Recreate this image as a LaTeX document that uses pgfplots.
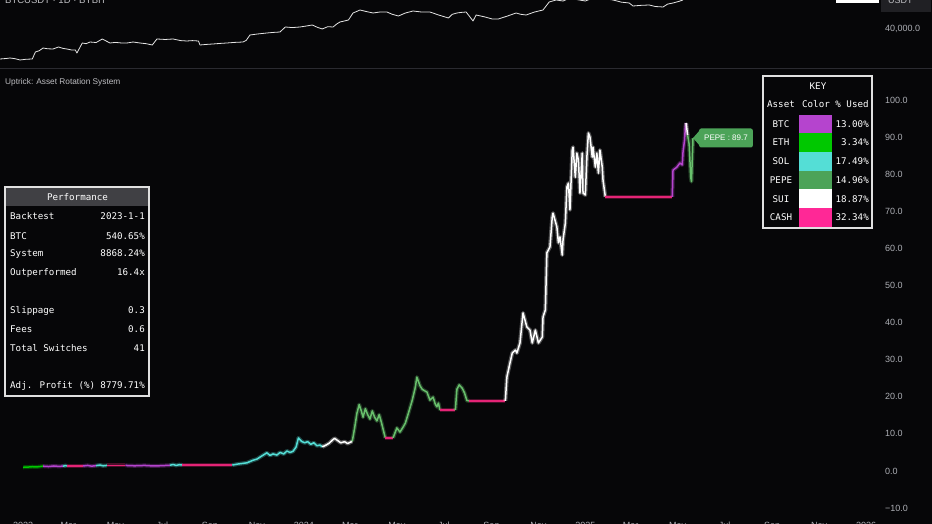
\documentclass[border=0pt]{standalone}
\usepackage{pgfplots}
\pgfplotsset{compat=1.18}
\usepackage{fontspec}
\setmainfont{Liberation Sans}
\newfontfamily\mono{DejaVu Sans Mono}
\definecolor{bg}{RGB}{6,6,8}
\definecolor{tick}{RGB}{172,174,180}
\definecolor{lblgrey}{RGB}{190,190,194}
\definecolor{sepc}{RGB}{42,42,48}
\definecolor{hdr}{RGB}{64,64,68}
\definecolor{usdtbg}{RGB}{32,32,36}
\definecolor{btc}{RGB}{181,68,206}
\definecolor{eth}{RGB}{0,200,0}
\definecolor{sol}{RGB}{84,222,214}
\definecolor{pepe}{RGB}{76,163,88}
\definecolor{sui}{RGB}{255,255,255}
\definecolor{cash}{RGB}{255,40,150}
\definecolor{cashline}{RGB}{228,36,118}
\definecolor{pepeline}{RGB}{104,192,108}
\definecolor{btcline}{RGB}{228,228,228}
\pgfplotsset{seg/.style={draw=#1, line width=1.5pt, mark=none, line join=round,
  preaction={draw=#1, line width=4pt, draw opacity=0.3}}}
\begin{document}
\begin{tikzpicture}
\useasboundingbox (0,0) rectangle (932pt,524pt);
\fill[bg] (0,0) rectangle (932pt,524pt);
% ---------- top pane: BTC price ----------
\begin{axis}[at={(0pt,456pt)}, anchor=south west, scale only axis,
  width=878pt, height=68pt, xmin=-30, xmax=1111.5, ymin=9463, ymax=62707,
  axis line style={draw=none}, tick style={draw=none}, major tick length=0,
  xtick=\empty, ytick={40000}, yticklabels={40{,}000.0}, scaled y ticks=false,
  yticklabel pos=right,
  yticklabel style={anchor=west, inner sep=0pt, xshift=7pt, text=tick, font=\fontsize{9}{10}\selectfont},
  clip=true]
\addplot[draw=btcline, line width=0.8pt, mark=none, line join=round] coordinates {
(-30,16510) (-22,16900) (-17,17290) (-10,16700) (-4,15730) (4,16300) (12,16510)
(16,21990) (21,23000) (26,25120) (32,24500) (39,24340) (46,25910) (52,24800)
(57,24340) (63,23560) (68,23560) (70,21210) (77,29040) (82,28500) (87,29820)
(95,29400) (103,32170) (108,30600) (113,29040) (120,29500) (128,29040) (135,29040)
(143,29800) (152,29040) (160,28500) (168,27470) (174,32170) (185,31800) (195,32170)
(205,30900) (213,30600) (220,30900) (228,30600) (230,27470) (240,28000) (247,28260)
(256,28700) (265,29040) (275,29500) (286,29820) (290,31000) (295,35300) (305,36100)
(317,36870) (325,37300) (334,37650) (341,41570) (350,41100) (360,41570) (368,42300)
(376,43130) (383,41200) (389,40000) (396,41800) (403,41570) (408,44000) (412,45480)
(418,46300) (423,47050) (429,52530) (434,53800) (438,54880) (446,53700) (455,52530)
(464,53300) (473,53310) (480,51500) (488,50180) (497,52500) (507,54090) (518,53300)
(529,53310) (540,51000) (553,48610) (558,51500) (564,52530) (570,53000) (576,53310)
(585,46260) (589,50960) (600,49500) (610,47830) (618,47830) (630,50200) (641,52530)
(647,51500) (654,50960) (665,53300) (676,54880) (684,61140) (693,62710) (702,61900)
(711,64270) (720,63000) (731,61920) (740,64000) (750,65060) (758,63500) (767,62710)
(778,61000) (788,60360) (793,58010) (803,58500) (814,58790) (822,57600) (832,57230)
(838,59500) (845,60360) (852,61500) (858,62710)};
\end{axis}
% ---------- bottom pane: system equity ----------
\begin{axis}[at={(0pt,0pt)}, anchor=south west, scale only axis,
  width=878pt, height=456pt, xmin=-30, xmax=1111.5, ymin=-14.286, ymax=108.625,
  axis line style={draw=none}, tick style={draw=none}, major tick length=0,
  ytick={-10,0,10,20,30,40,50,60,70,80,90,100},
  yticklabels={−10.0,0.0,10.0,20.0,30.0,40.0,50.0,60.0,70.0,80.0,90.0,100.0},
  yticklabel pos=right,
  yticklabel style={anchor=west, inner sep=0pt, xshift=7pt, text=tick, font=\fontsize{9}{10}\selectfont},
  xtick={0,59,120,181,243,304,365,425,486,547,609,670,731,790,851,912,974,1035,1096},
  xticklabels={2023,Mar,May,Jul,Sep,Nov,2024,Mar,May,Jul,Sep,Nov,2025,Mar,May,Jul,Sep,Nov,2026},
  xticklabel style={anchor=north, inner sep=0pt, yshift=1.8pt, text=tick, font=\fontsize{9}{10}\selectfont},
  clip=true]
\addplot[seg=eth] coordinates {(0,1.0) (6,1.05) (12,1.15) (18,1.1) (26,1.3)};
\addplot[seg=btc] coordinates {(26,1.3) (33,1.2) (40,1.35) (46,1.25) (52,1.3)};
\addplot[seg=sol] coordinates {(52,1.3) (55,1.45) (57,1.35)};
\addplot[seg=cashline] coordinates {(57,1.35) (78,1.35)};
\addplot[seg=btc] coordinates {(78,1.35) (84,1.5) (89,1.3) (95,1.45)};
\addplot[seg=sol] coordinates {(95,1.45) (100,1.6) (104,1.4) (109,1.5)};
\addplot[seg=cashline] coordinates {(109,1.5) (133,1.5)};
\addplot[seg=btc] coordinates {(133,1.5) (145,1.4) (158,1.5) (170,1.35) (182,1.45) (191,1.55)};
\addplot[seg=sol] coordinates {(191,1.55) (195,1.75) (199,1.5) (203,1.7) (207,1.6)};
\addplot[seg=cashline] coordinates {(207,1.6) (272,1.6)};
\addplot[seg=sol] coordinates {(272,1.6) (280,1.9) (291,2.2) (299,2.9) (304,3.2) (310,4.0)
 (317,4.9) (321,4.2) (325,4.6) (330,4.3) (334,5.0) (339,4.6) (343,5.4) (347,5.0) (351,5.3)
 (355,6.5) (358,8.9) (362,8.0) (366,7.6) (370,7.9) (374,7.2) (378,7.6) (382,6.8) (386,7.0) (389,6.5)};
\addplot[seg=sui] coordinates {(389,6.5) (394,7.0) (398,7.5) (402,8.3) (405,8.8) (409,8.2)
 (413,7.6) (418,7.9) (422,7.4) (426,7.8) (428,8.0)};
\addplot[seg=pepeline] coordinates {(428,8.0) (431,11.5) (434,15.5) (437,17.9) (440,16.0) (442,14.5)
 (445,16.8) (448,15.2) (451,14.0) (454,16.2) (457,14.5) (460,13.5) (463,15.2) (466,13.0) (469,10.5) (471,8.9)};
\addplot[seg=cashline] coordinates {(471,8.9) (481,8.9)};
\addplot[seg=pepeline] coordinates {(481,8.9) (486,11.6) (490,10.5) (494,11.8) (497,12.9) (501,15.6)
 (506,19.1) (510,22.6) (512,25.3) (516,23.0) (519,22.0) (523,21.5) (525,21.3) (529,19.1) (533,19.9)
 (536,18.0) (538,17.3) (540,18.3) (542,16.4)};
\addplot[seg=cashline] coordinates {(542,16.4) (562,16.4)};
\addplot[seg=pepeline] coordinates {(562,16.4) (564,22.0) (567,23.2) (571,22.3) (574,21.0) (577,19.0) (580,18.9)};
\addplot[seg=cashline] coordinates {(580,18.9) (627,18.9)};
\addplot[seg=sui] coordinates {(627,18.9) (629,25.3) (633,29.1) (636,31.8) (640,32.6) (642,31.8)
 (646,34.5) (650,42.6) (655,38.8) (659,38.0) (662,34.5) (666,38.0) (670,34.5) (675,36.1) (676,41.5)
 (679,43.4) (681,58.8) (685,60.4) (688,68.5) (689,69.5) (694,65.8) (696,61.5) (698,63.1) (701,58.2)
 (702,62.3) (705,66.8) (707,76.5) (709,77.6) (711,70.4) (714,86.5) (715,87.3) (718,79.2) (720,85.7)
 (722,83.8) (724,74.9) (727,85.7) (728,74.9) (731,74.4) (733,84.6) (735,91.1) (737,90.0) (740,84.6)
 (741,87.3) (744,81.9) (746,85.7) (748,80.3) (750,86.5) (753,81.9) (754,78.4) (757,73.9)};
\addplot[seg=cashline] coordinates {(757,73.9) (844,73.9)};
\addplot[seg=btc] coordinates {(844,73.9) (845,81.1) (850,81.9) (854,83.0) (857,82.5) (858,86.0)
 (860,89.2) (861,92.7) (862,93.8)};
\addplot[seg=sui] coordinates {(862,93.8) (864,90.5)};
\addplot[seg=pepeline] coordinates {(864,90.5) (866,88.0) (868,79.2) (869,78.0) (871,89.7)};
\end{axis}
% ---------- decorations ----------
\begin{scope}[x=1pt,y=1pt]
\draw[sepc, line width=0.8pt] (0,456) -- (932,456);
\node[anchor=base west, inner sep=0, text=lblgrey, font=\fontsize{9.5}{11}\selectfont] at (5,520.7) {BTCUSDT · 1D · BYBIT};
\fill[white] (836,520.5) rectangle (879,526);
\fill[usdtbg] (881,512) rectangle (931,526);
\node[anchor=base west, inner sep=0, text=lblgrey, font=\fontsize{9}{10}\selectfont] at (888,520.5) {USDT};
\node[anchor=west, inner sep=0, text=lblgrey, font=\fontsize{8.3}{10}\selectfont] at (5,442) {Uptrick: Asset Rotation System};
% PEPE tag
\fill[pepe] (693,386) -- (700.5,394.5) -- (700.5,377.5) -- cycle;
\node[fill=pepe, rounded corners=2pt, anchor=west, minimum height=19pt, inner xsep=5pt, inner ysep=0pt,
  text=white, font=\fontsize{8}{9}\selectfont] at (699,386) {PEPE : 89.7};
% Performance table
\begin{scope}[every node/.style={inner sep=0, text=white, font={\mono\fontsize{9.2}{11}\selectfont}}]
\fill[hdr] (5,318) rectangle (149,337);
\draw[white!88!black, line width=1.2pt] (5,128) rectangle (149,337);
\node at (77.5,327) {Performance};
\node[anchor=base west] at (10,304.7) {Backtest};     \node[anchor=base east] at (145,304.7) {2023-1-1};
\node[anchor=base west] at (10,284.7) {BTC};          \node[anchor=base east] at (145,284.7) {540.65\%};
\node[anchor=base west] at (10,267.7) {System};       \node[anchor=base east] at (145,267.7) {8868.24\%};
\node[anchor=base west] at (10,248.7) {Outperformed}; \node[anchor=base east] at (145,248.7) {16.4x};
\node[anchor=base west] at (10,210.7) {Slippage};     \node[anchor=base east] at (145,210.7) {0.3};
\node[anchor=base west] at (10,191.7) {Fees};         \node[anchor=base east] at (145,191.7) {0.6};
\node[anchor=base west] at (10,172.7) {Total Switches};\node[anchor=base east] at (145,172.7) {41};
\node[anchor=base west] at (10,135.7) {Adj. Profit (\%)};\node[anchor=base east] at (145,135.7) {8779.71\%};
% KEY table
\draw[white!88!black, line width=1.2pt] (763,296) rectangle (872,448);
\node at (818,438) {KEY};
\node[anchor=base] at (781,416.7) {Asset};
\node[anchor=base] at (816,416.7) {Color};
\node[anchor=base] at (852,416.7) {\% Used};
\fill[btc]  (799,390.6) rectangle (832,409.3);
\fill[eth]  (799,371.9) rectangle (832,390.6);
\fill[sol]  (799,353.2) rectangle (832,371.9);
\fill[pepe] (799,334.5) rectangle (832,353.2);
\fill[sui]  (799,315.8) rectangle (832,334.5);
\fill[cash] (799,297.1) rectangle (832,315.8);
\node[anchor=base] at (781,396.7) {BTC};  \node[anchor=base east] at (869,396.7) {13.00\%};
\node[anchor=base] at (781,378.0) {ETH};  \node[anchor=base east] at (869,378.0) {3.34\%};
\node[anchor=base] at (781,359.3) {SOL};  \node[anchor=base east] at (869,359.3) {17.49\%};
\node[anchor=base] at (781,340.6) {PEPE}; \node[anchor=base east] at (869,340.6) {14.96\%};
\node[anchor=base] at (781,321.9) {SUI};  \node[anchor=base east] at (869,321.9) {18.87\%};
\node[anchor=base] at (781,303.2) {CASH}; \node[anchor=base east] at (869,303.2) {32.34\%};
\end{scope}
\end{scope}
\end{tikzpicture}
\end{document}
